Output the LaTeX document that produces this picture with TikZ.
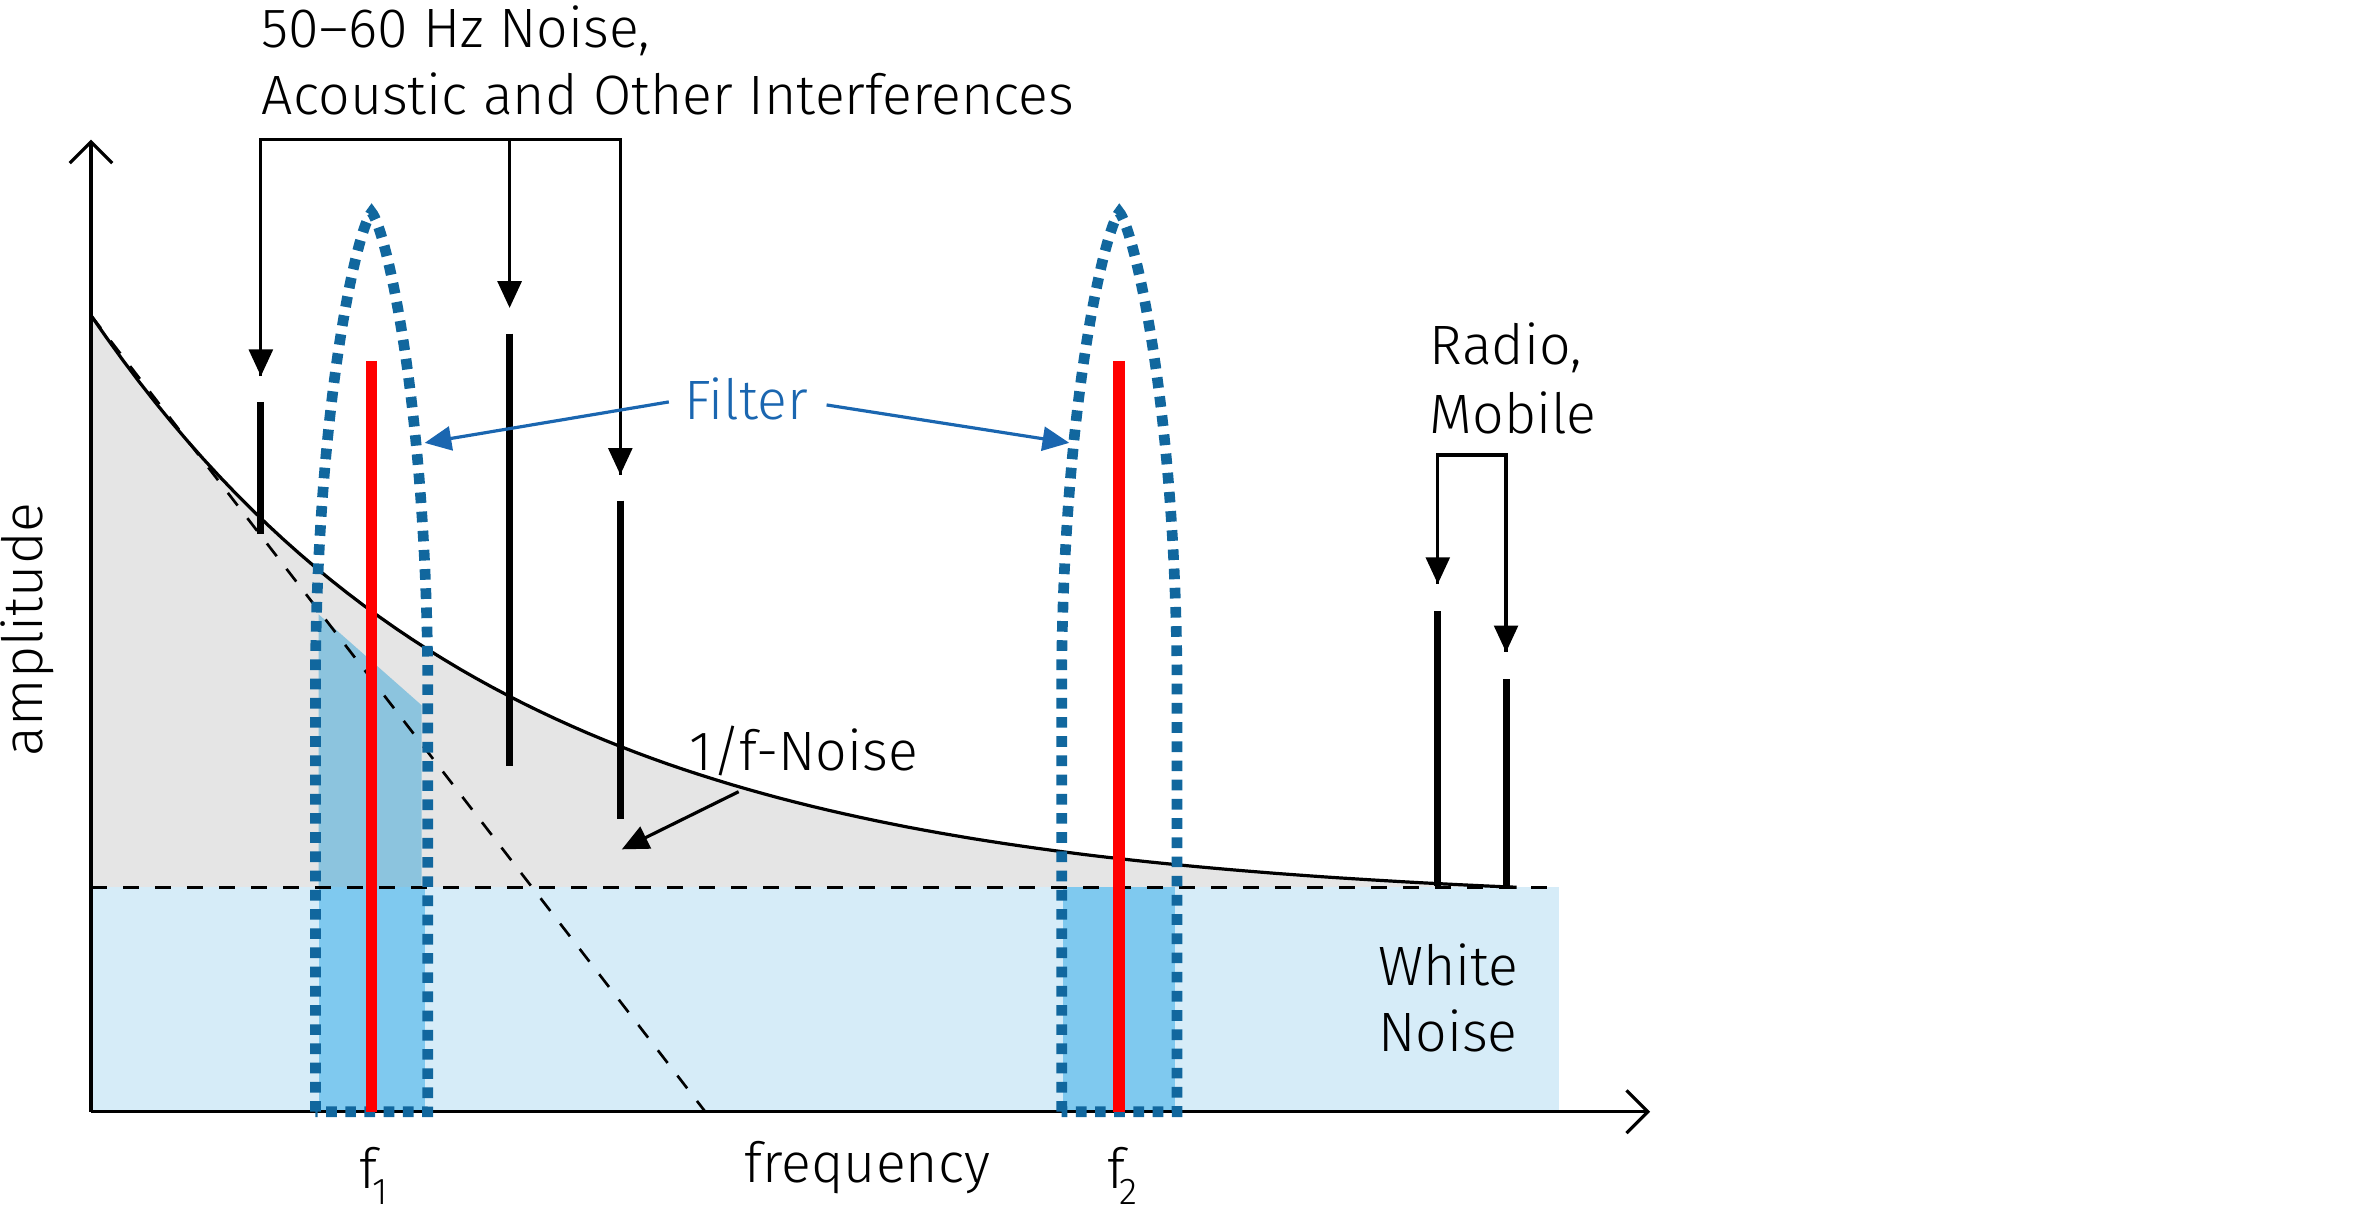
\documentclass[tikz,border=0pt]{standalone}
\usepackage{fontspec}
\setmainfont{Fira Sans}[UprightFont=* Light]
\usetikzlibrary{arrows.meta}
\definecolor{wn}{HTML}{D6ECF8}
\definecolor{pass}{HTML}{7FC9EF}
\definecolor{passg}{HTML}{8CC4DE}
\definecolor{filt}{HTML}{11679E}
\definecolor{fblue}{HTML}{1A66B0}
\definecolor{grayf}{HTML}{E5E5E5}
\tikzset{
  lbl/.style={font=\fontsize{10.4}{13}\selectfont, inner sep=0pt},
  sub/.style={font=\fontsize{7}{8}\selectfont, inner sep=0pt},
  spur/.style={line width=1.3pt},
  brk/.style={line width=0.5pt, -{Triangle[length=5pt,width=4.5pt]}},
  filtc/.style={filt, line width=2pt, dash pattern=on 2pt off 1.6pt},
  sig/.style={red, line width=2.2pt},
  barrow/.style={fblue, line width=0.6pt, -{Triangle[length=5pt,width=4.5pt]}},
}
\begin{document}
\begin{tikzpicture}[x=0.01cm,y=-0.01cm]
\useasboundingbox (0,0) rectangle (1560,806);
% gray 1/f area
\fill[grayf] plot[domain=60:1000, samples=90] (\x,{585-388.2*(exp(-(\x-60)/265)-0.0288)}) -- (1028,585) -- (60,585) -- cycle;
% white noise
\fill[wn] (60,585) rectangle (1028,733);
% passbands
\fill[passg] (210,405) -- (278,465) -- (278,585) -- (210,585) -- cycle;
\fill[pass] (210,585) rectangle (280,733);
\fill[pass] (701,585) rectangle (775,733);
% curve and dashed lines
\draw[line width=0.6pt] plot[domain=60:1000, samples=90] (\x,{585-388.2*(exp(-(\x-60)/265)-0.0288)});
\draw[dashed, line width=0.5pt] (60,585) -- (1028,585);
\draw[dashed, line width=0.5pt] (60,208) -- (465,733);
% axes
\draw[line width=0.6pt, -{Straight Barb[length=4pt,width=8pt]}] (60,733) -- (60,92);
\draw[line width=0.6pt, -{Straight Barb[length=4pt,width=8pt]}] (60,733) -- (1088,733);
% filters
\draw[filtc] (208,733) -- (208,440) .. controls (210,260) and (236,150) .. (245,140) .. controls (254,150) and (280,260) .. (282,440) -- (282,733) -- cycle;
\draw[filtc] (700,733) -- (700,440) .. controls (702,260) and (729,150) .. (738,140) .. controls (747,150) and (774,260) .. (776,440) -- (776,733) -- cycle;
% signals
\draw[sig] (245,238) -- (245,733);
\draw[sig] (738,238) -- (738,733);
% spurs
\draw[spur] (172,265) -- (172,352);
\draw[spur] (336,220) -- (336,505);
\draw[spur] (409,330) -- (409,540);
\draw[spur] (948,403) -- (948,584);
\draw[spur] (993,448) -- (993,584);
% brackets
\draw[line width=0.6pt] (172,248) -- (172,92) -- (409,92) -- (409,313);
\draw[brk] (172,150) -- (172,248);
\draw[brk] (336,92) -- (336,203);
\draw[brk] (409,150) -- (409,313);
\draw[line width=0.6pt] (948,385) -- (948,300) -- (993,300) -- (993,430);
\draw[brk] (948,330) -- (948,385);
\draw[brk] (993,330) -- (993,430);
% labels
\node[lbl, anchor=west] (t1) at (172,20) {50--60 Hz Noise,};
\node[lbl, anchor=west] (t2) at (172,62) {Acoustic and Other Interferences};
\node[lbl, anchor=west] (r1) at (942,229) {Radio,};
\node[lbl, anchor=west] (r2) at (942,272) {Mobile};
\node[lbl, fblue] (flt) at (492,263) {Filter};
\coordinate (fa) at (280,292); \coordinate (fb) at (705,292);
\draw[barrow] (441,265) -- (fa);
\draw[barrow] (545,267) -- (fb);
\node[lbl] (nf) at (530,495) {1/f-Noise};
\coordinate (na) at (410,560);
\draw[line width=0.6pt, -{Triangle[length=5pt,width=4.5pt]}] (487,522) -- (na);
\node[lbl, anchor=west] (w1) at (908,636) {White};
\node[lbl, anchor=west] (w2) at (908,680) {Noise};
\node[lbl, rotate=90] (amp) at (18,415) {amplitude};
\node[lbl] (f1) at (243,770) {f};
\node[sub] (f1s) at (251,786) {1};
\node[lbl] (fr) at (572,770) {frequency};
\node[lbl] (f2) at (736,770) {f};
\node[sub] (f2s) at (744,786) {2};
\end{tikzpicture}
\end{document}
